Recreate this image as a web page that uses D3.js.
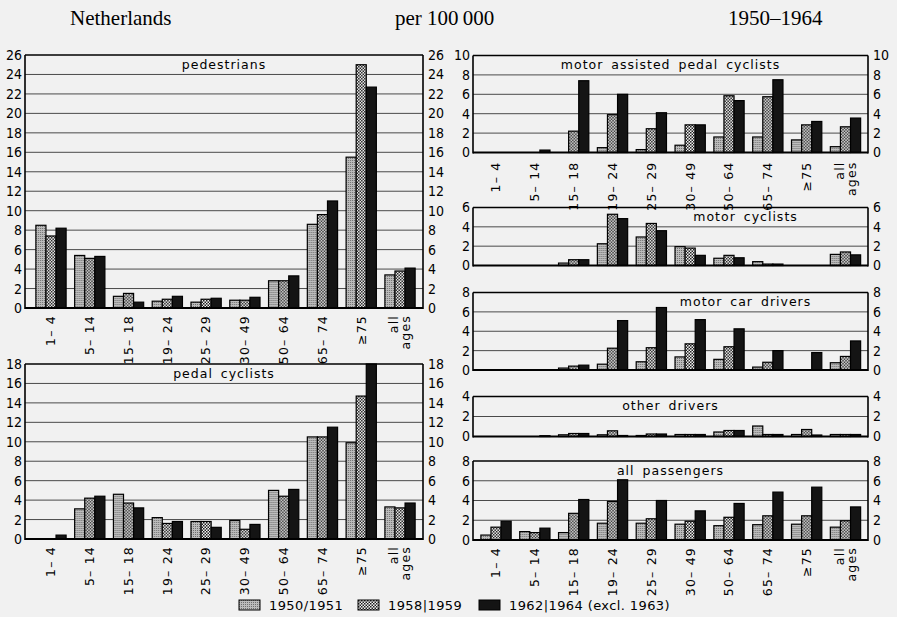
<!DOCTYPE html>
<html>
<head>
<meta charset="utf-8">
<script src="https://cdn.jsdelivr.net/npm/d3@7/dist/d3.min.js"></script>
<style>
  body { margin: 0; background: #f1f1f1; }
  svg { display: block; }
  text { font-family: "DejaVu Sans", sans-serif; fill: #000; }
  .head { font-family: "Liberation Serif", "DejaVu Serif", serif; font-size: 21px; }
  .title { font-size: 12.5px; letter-spacing: 1px; word-spacing: 3px; }
  .tick text { font-family: "DejaVu Sans Condensed", "DejaVu Sans", sans-serif; font-size: 14px; }
  .age { font-size: 12.5px; letter-spacing: 1.2px; }
</style>
</head>
<body>
<div id="chart"></div>
<script>
// age groups (x categories)
var ages = ["1– 4", "5– 14", "15– 18", "19– 24", "25– 29", "30– 49", "50– 64", "65– 74", "≥75", "all ages"];
var seriesNames = ["1950/1951", "1958|1959", "1962|1964  (excl. 1963)"];

// deaths per 100000, one row per age group: [1950/51, 1958/59, 1962/64]
var pedestrians = [[8.5, 7.4, 8.2], [5.4, 5.1, 5.3], [1.2, 1.5, 0.6], [0.7, 0.9, 1.2], [0.6, 0.9, 1.0],
                   [0.8, 0.8, 1.1], [2.8, 2.8, 3.3], [8.6, 9.6, 11.0], [15.5, 25.0, 22.7], [3.4, 3.8, 4.1]];
var pedalCyclists = [[0, 0, 0.4], [3.1, 4.2, 4.4], [4.6, 3.7, 3.2], [2.2, 1.6, 1.8], [1.8, 1.8, 1.2],
                     [1.9, 1.0, 1.5], [5.0, 4.4, 5.1], [10.5, 10.5, 11.5], [9.9, 14.7, 18.0], [3.3, 3.2, 3.7]];
var motorAssisted = [[0, 0, 0], [0, 0, 0.25], [0, 2.2, 7.4], [0.5, 3.9, 6.0], [0.3, 2.45, 4.1],
                     [0.75, 2.85, 2.85], [1.6, 5.85, 5.35], [1.6, 5.75, 7.5], [1.3, 2.85, 3.2], [0.6, 2.65, 3.55]];
var motorCyclists = [[0, 0, 0], [0, 0, 0], [0.25, 0.6, 0.6], [2.25, 5.3, 4.85], [2.95, 4.35, 3.6],
                     [1.95, 1.8, 1.05], [0.75, 1.05, 0.8], [0.4, 0.15, 0.15], [0, 0, 0], [1.15, 1.4, 1.1]];
var carDrivers = [[0, 0, 0], [0, 0, 0], [0.2, 0.4, 0.5], [0.6, 2.25, 5.1], [0.85, 2.3, 6.45],
                  [1.35, 2.7, 5.2], [1.1, 2.4, 4.25], [0.3, 0.8, 2.0], [0, 0, 1.8], [0.75, 1.4, 3.0]];
var otherDrivers = [[0, 0, 0], [0, 0, 0.08], [0.17, 0.3, 0.3], [0.17, 0.57, 0.1], [0.1, 0.25, 0.25],
                    [0.2, 0.2, 0.2], [0.45, 0.6, 0.6], [1.05, 0.2, 0.2], [0.2, 0.7, 0.15], [0.2, 0.2, 0.2]];
var allPassengers = [[0.5, 1.3, 1.9], [0.85, 0.75, 1.2], [0.75, 2.7, 4.1], [1.7, 3.9, 6.1], [1.7, 2.15, 4.0],
                     [1.6, 1.9, 2.95], [1.45, 2.3, 3.7], [1.55, 2.45, 4.85], [1.6, 2.45, 5.35], [1.3, 1.95, 3.35]];

var width = 897, height = 617;

var svg = d3.select("#chart").append("svg")
    .attr("width", width)
    .attr("height", height);

// fill patterns for the three periods
var defs = svg.append("defs");
var p1 = defs.append("pattern").attr("id", "p1").attr("width", 2).attr("height", 2)
    .attr("patternUnits", "userSpaceOnUse");
p1.append("rect").attr("width", 2).attr("height", 2).attr("fill", "#bcbcbc");
p1.append("rect").attr("width", 1).attr("height", 1).attr("fill", "#6e6e6e");
var p2 = defs.append("pattern").attr("id", "p2").attr("width", 3).attr("height", 3)
    .attr("patternUnits", "userSpaceOnUse");
p2.append("rect").attr("width", 3).attr("height", 3).attr("fill", "#f4f4f4");
p2.append("rect").attr("width", 1.5).attr("height", 1.5).attr("fill", "#1e1e1e");
p2.append("rect").attr("x", 1.5).attr("y", 1.5).attr("width", 1.5).attr("height", 1.5).attr("fill", "#1e1e1e");
var fills = ["url(#p1)", "url(#p2)", "#141414"];

// header
svg.append("text").attr("class", "head").attr("x", 70).attr("y", 25).text("Netherlands");
svg.append("text").attr("class", "head").attr("x", 395).attr("y", 25).text("per 100\u2009000");
svg.append("text").attr("class", "head").attr("x", 728).attr("y", 25).text("1950–1964");

var panels = [
  {title: "pedestrians", data: pedestrians, max: 26, x0: 25, x1: 423, y0: 55, y1: 308, tx: 0.5, labels: true},
  {title: "pedal  cyclists", data: pedalCyclists, max: 18, x0: 25, x1: 423, y0: 364, y1: 539, tx: 0.5, labels: true},
  {title: "motor  assisted  pedal  cyclists", data: motorAssisted, max: 10, x0: 473, x1: 868, y0: 55.5, y1: 152.5, tx: 0.5, labels: true},
  {title: "motor  cyclists", data: motorCyclists, max: 6, x0: 473, x1: 868, y0: 207.5, y1: 265.5, tx: 0.69, labels: false},
  {title: "motor  car  drivers", data: carDrivers, max: 8, x0: 473, x1: 868, y0: 292.5, y1: 370, tx: 0.69, labels: false},
  {title: "other  drivers", data: otherDrivers, max: 4, x0: 473, x1: 868, y0: 396.5, y1: 436.5, tx: 0.5, labels: false},
  {title: "all  passengers", data: allPassengers, max: 8, x0: 473, x1: 868, y0: 461, y1: 540, tx: 0.5, labels: true}
];

panels.forEach(function(p) {
  var g = svg.append("g");
  var left = p.x0 < 400;
  var x = d3.scaleBand()
      .domain(ages)
      .range(left ? [p.x0 + 6.6, p.x1 - 3.6] : [p.x0 + 3.6, p.x1 - 3.1])
      .paddingInner(0.22)
      .paddingOuter(0.11);
  var xs = d3.scaleBand().domain([0, 1, 2]).range([0, x.bandwidth()]);
  var y = d3.scaleLinear().domain([0, p.max]).range([p.y1, p.y0]);
  var ticks = d3.range(0, p.max + 1, 2);

  // grid lines
  g.selectAll(".grid")
      .data(ticks.filter(function(t) { return t > 0 && t < p.max; }))
      .enter().append("line")
      .attr("x1", p.x0).attr("x2", p.x1)
      .attr("y1", function(d) { return y(d); })
      .attr("y2", function(d) { return y(d); })
      .attr("stroke", "#4a4a4a").attr("stroke-width", 1);

  // bars
  var groups = g.selectAll(".grp")
      .data(p.data)
      .enter().append("g")
      .attr("transform", function(d, i) { return "translate(" + x(ages[i]) + ",0)"; });
  groups.selectAll("rect")
      .data(function(d) { return d.map(function(v, k) { return {v: v, k: k}; }).filter(function(e) { return e.v > 0; }); })
      .enter().append("rect")
      .attr("x", function(d) { return xs(d.k); })
      .attr("width", xs.bandwidth())
      .attr("y", function(d) { return y(d.v); })
      .attr("height", function(d) { return y(0) - y(d.v); })
      .attr("fill", function(d) { return fills[d.k]; })
      .attr("stroke", "#000").attr("stroke-width", 1.2);

  // frame
  g.append("line").attr("x1", p.x0).attr("x2", p.x1).attr("y1", p.y0).attr("y2", p.y0)
      .attr("stroke", "#000").attr("stroke-width", 1.5);
  g.append("line").attr("x1", p.x0).attr("x2", p.x1).attr("y1", p.y1).attr("y2", p.y1)
      .attr("stroke", "#000").attr("stroke-width", 2.2);
  [p.x0, p.x1].forEach(function(xx) {
    g.append("line").attr("x1", xx).attr("x2", xx).attr("y1", p.y0).attr("y2", p.y1 + 1)
        .attr("stroke", "#000").attr("stroke-width", 1.6);
  });

  // axes, both sides
  var fmt = d3.format("d");
  var ya = g.append("g").attr("transform", "translate(" + (p.x0 - 1) + ",0)")
      .call(d3.axisLeft(y).tickValues(ticks).tickFormat(fmt).tickSize(0).tickPadding(2));
  var yb = g.append("g").attr("transform", "translate(" + (p.x1 + 4) + ",0)")
      .call(d3.axisRight(y).tickValues(ticks).tickFormat(fmt).tickSize(0).tickPadding(1));
  [ya, yb].forEach(function(a) {
    a.select(".domain").remove();
    a.attr("font-family", null).attr("font-size", null);
  });

  // title
  g.append("text").attr("class", "title")
      .attr("x", p.x0 + (p.x1 - p.x0) * p.tx)
      .attr("y", p.y0 + 13.5)
      .attr("text-anchor", "middle")
      .text(p.title);

  // rotated age labels
  if (p.labels) {
    var ly = p.y1 + (p.y0 < 100 && !left ? 9 : 7);
    ages.forEach(function(a) {
      var cx = x(a) + x.bandwidth() / 2;
      var parts = a === "all ages" ? ["all", "ages"] : [a];
      parts.forEach(function(t, j) {
        var px = parts.length > 1 ? cx - 6 + j * 12 : cx;
        g.append("text").attr("class", "age")
            .attr("transform", "translate(" + px + "," + ly + ") rotate(-90)")
            .attr("text-anchor", "end")
            .attr("dy", "0.35em")
            .text(t);
      });
    });
  }
});

// legend
var legendX = [239, 358, 479];
var leg = svg.selectAll(".leg")
    .data(seriesNames)
    .enter().append("g")
    .attr("transform", function(d, i) { return "translate(" + legendX[i] + ",600)"; });
leg.append("rect").attr("width", 21).attr("height", 10)
    .attr("fill", function(d, i) { return fills[i]; })
    .attr("stroke", "#000").attr("stroke-width", 1);
leg.append("text").attr("x", 30).attr("y", 10)
    .attr("font-size", 13).attr("letter-spacing", 0.4)
    .text(function(d) { return d; });
</script>
</body>
</html>
